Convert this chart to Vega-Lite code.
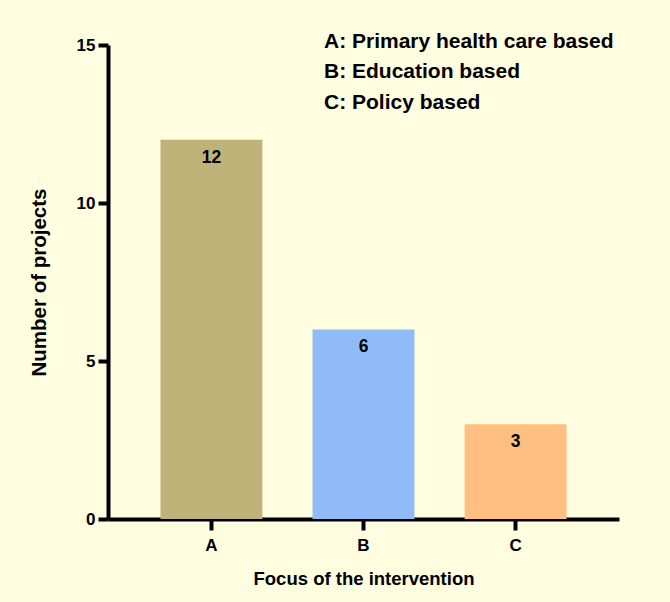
{
  "$schema": "https://vega.github.io/schema/vega-lite/v6.json",
  "autosize": "none",
  "padding": {"left": 108, "top": 45, "right": 51, "bottom": 83},
  "width": 511,
  "height": 474,
  "background": "#FFFDE0",
  "config": {
    "view": {"stroke": null},
    "font": "Liberation Sans"
  },
  "data": {
    "values": [
      {"focus": "A", "label": "A: Primary health care based", "projects": 12},
      {"focus": "B", "label": "B: Education based", "projects": 6},
      {"focus": "C", "label": "C: Policy based", "projects": 3}
    ]
  },
  "encoding": {
    "x": {
      "field": "focus",
      "type": "nominal",
      "title": "Focus of the intervention",
      "scale": {"paddingInner": 0.33, "paddingOuter": 0.345},
      "axis": {
        "labelAngle": 0,
        "domainColor": "black",
        "domainWidth": 4,
        "tickColor": "black",
        "tickWidth": 4,
        "tickSize": 11,
        "labelFont": "Liberation Sans",
        "labelFontWeight": "bold",
        "labelFontSize": 17,
        "labelColor": "black",
        "labelPadding": 7,
        "titleFont": "Liberation Sans",
        "titleFontWeight": "bold",
        "titleFontSize": 18.5,
        "titleColor": "black",
        "titlePadding": 16
      }
    },
    "y": {
      "field": "projects",
      "type": "quantitative",
      "title": "Number of projects",
      "scale": {"domain": [0, 15], "nice": false},
      "axis": {
        "values": [0, 5, 10, 15],
        "grid": false,
        "domainColor": "black",
        "domainWidth": 4,
        "tickColor": "black",
        "tickWidth": 4,
        "tickSize": 10,
        "labelFont": "Liberation Sans",
        "labelFontWeight": "bold",
        "labelFontSize": 17,
        "labelColor": "black",
        "labelPadding": 3,
        "titleFont": "Liberation Sans",
        "titleFontWeight": "bold",
        "titleFontSize": 20.5,
        "titleColor": "black",
        "titlePadding": 27
      }
    }
  },
  "layer": [
    {
      "mark": {"type": "bar"},
      "encoding": {
        "color": {
          "field": "label",
          "type": "nominal",
          "scale": {
            "domain": ["A: Primary health care based", "B: Education based", "C: Policy based"],
            "range": ["#BFB37A", "#8FBBF7", "#FFBF80"]
          },
          "legend": {
            "title": null,
            "orient": "none",
            "legendX": 195,
            "legendY": -14,
            "symbolSize": 0,
            "symbolStrokeWidth": 0,
            "symbolOpacity": 0,
            "labelOffset": 0,
            "labelFont": "Liberation Sans",
            "labelFontWeight": "bold",
            "labelFontSize": 21,
            "labelColor": "black",
            "labelLimit": 400,
            "rowPadding": 8.5
          }
        }
      }
    },
    {
      "mark": {
        "type": "text",
        "baseline": "middle",
        "dy": 18,
        "fontSize": 17.5,
        "fontWeight": "bold",
        "font": "Liberation Sans",
        "color": "black"
      },
      "encoding": {
        "text": {"field": "projects", "type": "quantitative"}
      }
    }
  ]
}
